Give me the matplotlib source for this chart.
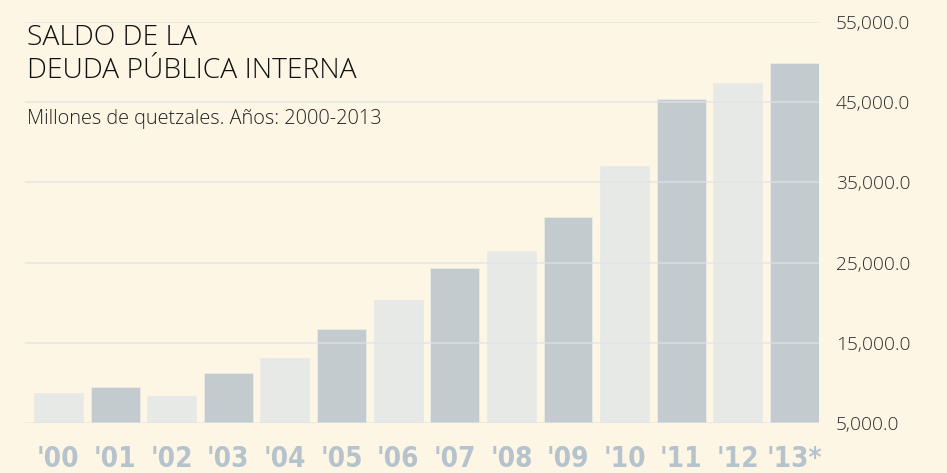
import matplotlib
matplotlib.use('Agg')
import matplotlib.pyplot as plt
import numpy as np

years = ["'00", "'01", "'02", "'03", "'04", "'05", "'06",
         "'07", "'08", "'09", "'10", "'11", "'12", "'13*"]
saldo = [8700, 9530, 8370, 11230, 13070, 16680, 20340,
         24290, 26450, 30720, 37080, 45400, 47360, 49900]
yticks = [5000, 15000, 25000, 35000, 45000, 55000]

BG = '#fdf6e5'
LIGHT = '#e7e9e7'
DARK = '#c3cbcf'
W, H = 947, 473

fig = plt.figure(figsize=(W / 100, H / 100), dpi=100, facecolor=BG)
ax = fig.add_axes([25 / W, (H - 423) / H, (819 - 25) / W, (423 - 22) / H])
ax.set_facecolor(BG)

x = np.arange(len(years))
colors = [LIGHT if i % 2 == 0 else DARK for i in range(len(years))]
ax.bar(x, [v - 5000 for v in saldo], bottom=5000, width=0.865,
       color=colors, edgecolor='#ebebe6', linewidth=0.6, zorder=2)

ax.set_xlim(-0.59, 13.433)
ax.set_ylim(5000, 55000)

# faint gridlines on top of the bars
for t in yticks:
    ax.axhline(t, color='#dce3ea', lw=1.3, alpha=0.7, zorder=3)

ax.set_yticks(yticks)
ax.set_yticklabels([f'{t:,.1f}' for t in yticks], family='Open Sans',
                   fontweight='light', fontsize=13.8, color='#2b2b2b')
ax.yaxis.tick_right()
ax.tick_params(axis='y', length=0, pad=12)

ax.set_xticks(x)
ax.set_xticklabels(years, family='DejaVu Sans', fontweight='bold',
                   fontstretch='condensed', fontsize=20, color='#b6c3cc')
ax.tick_params(axis='x', length=0, pad=15.5)

for s in ax.spines.values():
    s.set_visible(False)

title_font = dict(family='Open Sans', fontweight='light', fontsize=20.3,
                  color='#111111', va='baseline', ha='left')
fig.text(27 / W, 1 - 45 / H, 'SALDO DE LA', **title_font)
fig.text(27 / W, 1 - 78 / H, 'DEUDA PÚBLICA INTERNA', **title_font)
fig.text(27 / W, 1 - 124 / H, 'Millones de quetzales. Años: 2000-2013', family='Open Sans',
         fontweight='light', fontsize=14.3, color='#222222', va='baseline', ha='left')

fig.savefig('out.png', dpi=100, facecolor=BG)
